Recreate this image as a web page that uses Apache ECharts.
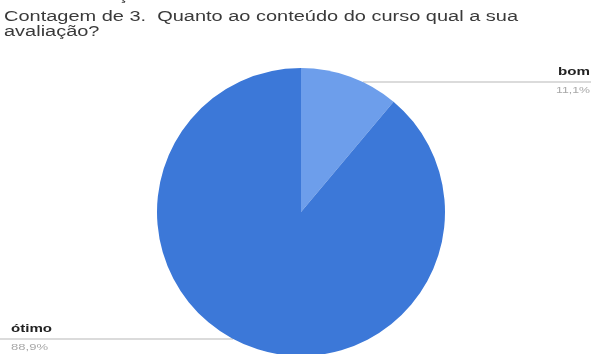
<!DOCTYPE html>
<html>
<head>
<meta charset="utf-8">
<script src="https://cdn.jsdelivr.net/npm/echarts@6/dist/echarts.min.js"></script>
<style>
  html, body { margin: 0; padding: 0; background: #fff; }
  #chart { width: 591px; height: 354px; }
</style>
</head>
<body>
<div id="chart"></div>
<script>
// Answers to question 3 and how many respondents gave each
const categories = ['bom', 'ótimo'];
const counts = [1, 8];
const colors = ['#6d9eeb', '#3c78d8'];
const titleLines = ['Contagem de 3.  Quanto ao conteúdo do curso qual a sua', 'avaliação?'];

const W = 591;
const FONT = 'Liberation Sans, Arial, sans-serif';
const CX = 301, CY = 212, R = 144;

const total = counts.reduce((a, b) => a + b, 0);
const pct = v => (v / total * 100).toFixed(1).replace('.', ',') + '%';

// text measuring, used to stretch the wide lettering horizontally
const ctx = document.createElement('canvas').getContext('2d');
const textWidth = (t, font) => { ctx.font = font; return ctx.measureText(t).width; };
const fitScale = (t, font, target) => target / textWidth(t, font);

const pieData = categories.map((name, i) => ({
  name: name,
  value: counts[i],
  itemStyle: { color: colors[i] }
}));

// label rows: y of the leader line, which side, and how wide each text runs
const labelRows = [
  { y: 82, side: 'right', nameW: 32, pctW: 34 },
  { y: 339, side: 'left', nameW: 41, pctW: 37 }
];

const graphics = [];

// title, two lines
const titleFont = 'normal 14px ' + FONT;
const tScale = fitScale(titleLines[0], titleFont, 514);
graphics.push({
  type: 'text', x: 4, y: 10, scaleX: tScale, silent: true,
  style: {
    text: titleLines.join('\n'), font: titleFont, fill: '#3a3a3a',
    lineHeight: 15, align: 'left', verticalAlign: 'top'
  }
});
// tail of the line above the title, only its cedilla inside the top edge
graphics.push({
  type: 'text', x: 118, y: 3, scaleX: tScale, silent: true,
  style: { text: 'ç', font: titleFont, fill: '#3a3a3a', align: 'left', verticalAlign: 'bottom' }
});

categories.forEach((name, i) => {
  const row = labelRows[i];
  const dy = row.y - CY;
  const half = Math.sqrt(Math.max(0, R * R - dy * dy));
  const right = row.side === 'right';
  const edgeX = right ? CX + half : CX - half;
  const tx = right ? W - 1 : 11;
  const nameFont = 'bold 10px ' + FONT;
  const pctFont = 'normal 9px ' + FONT;
  const pctText = pct(counts[i]);

  graphics.push({
    type: 'line', silent: true,
    shape: { x1: right ? edgeX : 0, y1: row.y, x2: right ? W : edgeX, y2: row.y },
    style: { stroke: '#cfcfcf', lineWidth: 1.5 }
  });
  graphics.push({
    type: 'text', x: tx, y: row.y - 10, silent: true,
    scaleX: fitScale(name, nameFont, row.nameW),
    style: { text: name, font: nameFont, fill: '#222', align: row.side, verticalAlign: 'middle' }
  });
  graphics.push({
    type: 'text', x: tx, y: row.y + 9, silent: true,
    scaleX: fitScale(pctText, pctFont, row.pctW),
    style: { text: pctText, font: pctFont, fill: '#a8a8a8', align: row.side, verticalAlign: 'middle' }
  });
});

const chart = echarts.init(document.getElementById('chart'), null, { renderer: 'canvas' });
chart.setOption({
  animation: false,
  series: [{
    type: 'pie',
    center: [CX, CY],
    radius: [0, R],
    startAngle: 90,
    clockwise: true,
    data: pieData,
    itemStyle: { borderWidth: 0 },
    label: { show: false },
    labelLine: { show: false }
  }],
  graphic: graphics
});
</script>
</body>
</html>
